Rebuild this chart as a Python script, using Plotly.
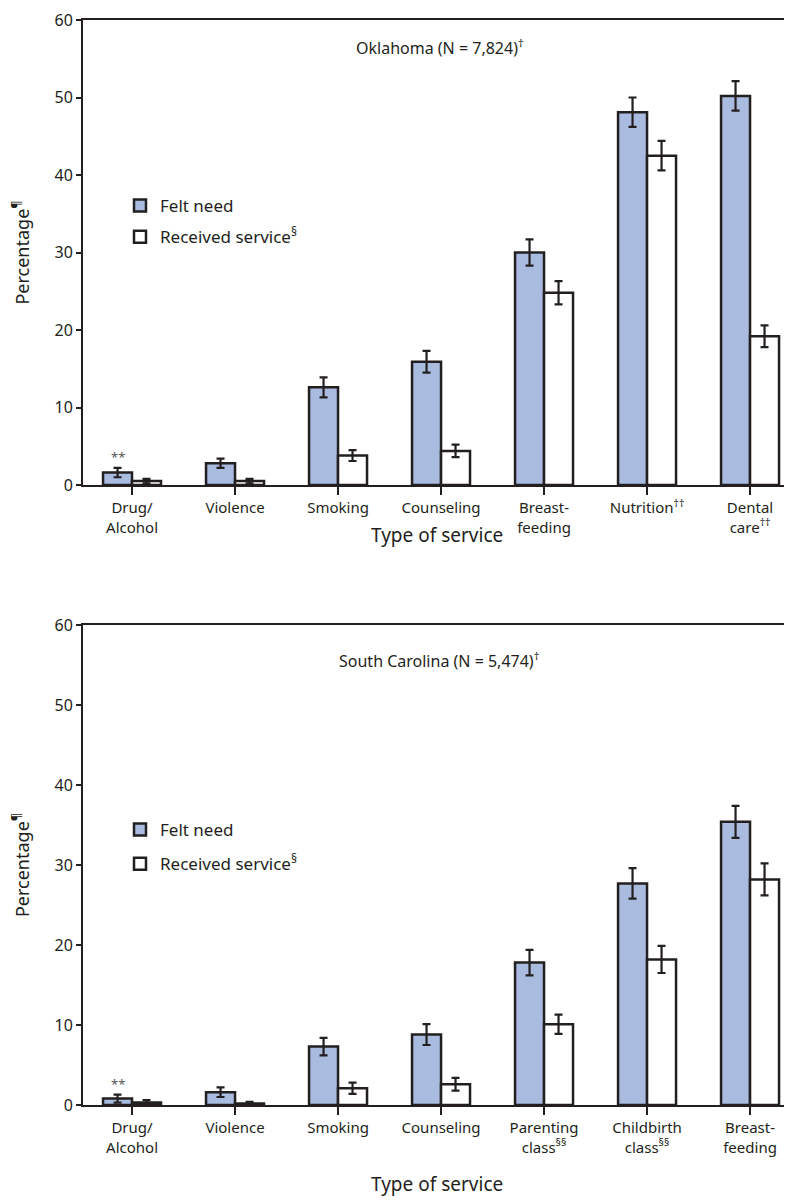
import plotly.graph_objects as go

ok_categories = ["Drug/<br>Alcohol", "Violence", "Smoking", "Counseling", "Breast-<br>feeding",
                 "Nutrition<sup>††</sup>", "Dental<br>care<sup>††</sup>"]
ok_felt = [1.6, 2.8, 12.6, 15.9, 30.0, 48.1, 50.2]
ok_felt_err = [0.6, 0.6, 1.3, 1.4, 1.7, 1.9, 1.9]
ok_recv = [0.5, 0.5, 3.8, 4.4, 24.8, 42.5, 19.2]
ok_recv_err = [0.3, 0.3, 0.7, 0.8, 1.5, 1.9, 1.4]

sc_categories = ["Drug/<br>Alcohol", "Violence", "Smoking", "Counseling", "Parenting<br>class<sup>§§</sup>",
                 "Childbirth<br>class<sup>§§</sup>", "Breast-<br>feeding"]
sc_felt = [0.8, 1.6, 7.3, 8.8, 17.8, 27.7, 35.4]
sc_felt_err = [0.5, 0.6, 1.1, 1.3, 1.6, 1.9, 2.0]
sc_recv = [0.3, 0.2, 2.1, 2.6, 10.1, 18.2, 28.2]
sc_recv_err = [0.3, 0.2, 0.7, 0.8, 1.2, 1.7, 2.0]

y_ticks = [0, 10, 20, 30, 40, 50, 60]

FONT = "Noto Sans"
INK = "#231f20"
BLUE = "#a9bce0"
W, H = 792, 1201
OFF = 8  # page body margin

fig = go.Figure()

def add_panel(cats, felt, felt_err, recv, recv_err, xa, ya, legend):
    xs = list(range(len(cats)))
    fig.add_trace(go.Bar(
        x=xs, y=felt, name="Felt need", xaxis=xa, yaxis=ya, legend=legend,
        legendgroup=legend + "felt",
        marker=dict(color=BLUE, line=dict(color=INK, width=2.5)),
        error_y=dict(type="data", array=felt_err, color=INK, thickness=2.2, width=4),
        offsetgroup="a"))
    fig.add_trace(go.Bar(
        x=xs, y=recv, name="Received service<sup>§</sup>", xaxis=xa, yaxis=ya, legend=legend,
        legendgroup=legend + "recv",
        marker=dict(color="white", line=dict(color=INK, width=2.5)),
        error_y=dict(type="data", array=recv_err, color=INK, thickness=2.2, width=4),
        offsetgroup="b"))

add_panel(ok_categories, ok_felt, ok_felt_err, ok_recv, ok_recv_err, "x", "y", "legend")
add_panel(sc_categories, sc_felt, sc_felt_err, sc_recv, sc_recv_err, "x2", "y2", "legend2")

def px(xs):
    return (xs - OFF) / W

def py(ys):
    return 1 - (ys - OFF) / H

xdom = [px(83), 1.0]
top_dom = [py(485), py(20)]
bot_dom = [py(1105), py(625)]

def xaxis_cfg(cats, anchor):
    return dict(domain=xdom, anchor=anchor, range=[-0.476, 6.485], automargin=False,
                tickmode="array", tickvals=list(range(len(cats))), ticktext=cats,
                showline=True, linecolor=INK, linewidth=2, mirror=True,
                ticks="outside", ticklen=8, tickwidth=2, tickcolor=INK,
                showgrid=False, zeroline=False,
                tickfont=dict(family=FONT, size=15, color=INK))

def yaxis_cfg(dom, anchor):
    return dict(domain=dom, anchor=anchor, range=[0, 60], automargin=False,
                tickmode="array", tickvals=y_ticks,
                showline=True, linecolor=INK, linewidth=2,
                ticks="outside", ticklen=5, tickwidth=2, tickcolor=INK,
                showgrid=False, zeroline=False,
                tickfont=dict(family=FONT, size=16, color=INK),
                title=dict(text="Percentage<sup>¶</sup>", font=dict(family=FONT, size=18, color=INK), standoff=28))

legend_common = dict(font=dict(family=FONT, size=17, color=INK), bgcolor="rgba(0,0,0,0)",
                     xanchor="left", yanchor="top", itemwidth=30)

fig.update_layout(
    width=W, height=H,
    margin=dict(l=0, r=0, t=0, b=0, autoexpand=False),
    paper_bgcolor="white", plot_bgcolor="white",
    bargap=0.437, bargroupgap=0.0, barmode="group",
    xaxis=xaxis_cfg(ok_categories, "y"),
    yaxis=yaxis_cfg(top_dom, "x"),
    xaxis2=xaxis_cfg(sc_categories, "y2"),
    yaxis2=yaxis_cfg(bot_dom, "x2"),
    legend=dict(x=px(120), y=py(188), tracegroupgap=6, **legend_common),
    legend2=dict(x=px(120), y=py(812), tracegroupgap=9, **legend_common),
    showlegend=True,
    annotations=[
        dict(text="Oklahoma (N = 7,824)<sup>†</sup>", xref="paper", yref="paper",
             x=px(440), y=py(33), showarrow=False, font=dict(family=FONT, size=16, color=INK)),
        dict(text="South Carolina (N = 5,474)<sup>†</sup>", xref="paper", yref="paper",
             x=px(440), y=py(660), showarrow=False, font=dict(family=FONT, size=16, color=INK)),
        dict(text="Type of service", xref="paper", yref="paper",
             x=px(437), y=py(535), showarrow=False, font=dict(family=FONT, size=19, color=INK)),
        dict(text="Type of service", xref="paper", yref="paper",
             x=px(437), y=py(1199), showarrow=False, font=dict(family=FONT, size=19, color=INK)),
        dict(text="**", xref="x", yref="y", x=-0.14, y=ok_felt[0] + ok_felt_err[0],
             yanchor="bottom", showarrow=False, font=dict(family=FONT, size=13, color="#555")),
        dict(text="**", xref="x2", yref="y2", x=-0.14, y=sc_felt[0] + sc_felt_err[0],
             yanchor="bottom", showarrow=False, font=dict(family=FONT, size=13, color="#555")),
    ],
)

fig.write_html("out.html")
